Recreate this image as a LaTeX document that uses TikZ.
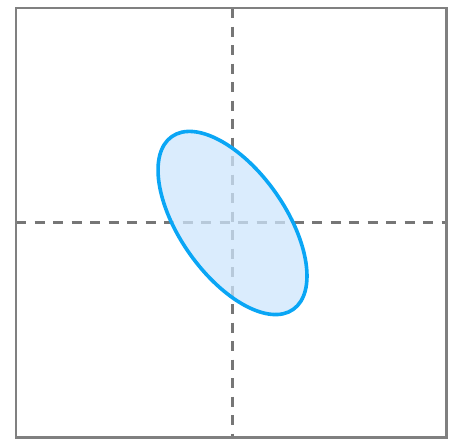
\documentclass[tikz,border=0pt]{standalone}
\usetikzlibrary{calc}
\definecolor{framegray}{RGB}{128,128,128}
\definecolor{dashgray}{RGB}{118,118,118}
\definecolor{ellblue}{RGB}{10,166,245}
\definecolor{ellfill}{RGB}{205,230,252}
\tikzset{
  frame/.style={draw=framegray, line width=2.6pt},
  axisline/.style={draw=dashgray, line width=2.6pt, dash pattern=on 10pt off 8.5pt},
  blob/.style={draw=ellblue, line width=3.6pt, fill=ellfill, fill opacity=0.75}
}
\begin{document}
\begin{tikzpicture}[x=1pt,y=-1pt]
\useasboundingbox (0,0) rectangle (452,442);
\coordinate (tl) at (16,8);
\coordinate (br) at (446.5,437.5);
\coordinate (c) at (232.5,223);
\coordinate (vt) at (232.5,8);
\coordinate (vb) at (232.5,437.5);
\coordinate (hl) at (16,222.5);
\coordinate (hr) at (446.5,222.5);
\draw[axisline] (vt) -- (vb);
\draw[axisline] (hl) -- (hr);
\path[blob, rotate around={-54.9:(c)}] (c) ellipse [x radius=105.6pt, y radius=52.7pt];
\draw[frame] (tl) rectangle (br);
\end{tikzpicture}
\end{document}
